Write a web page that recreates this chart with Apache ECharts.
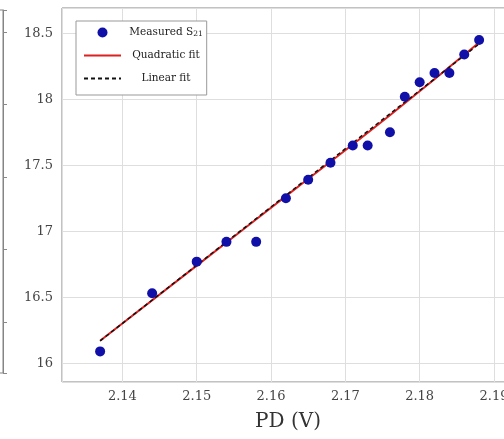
<!DOCTYPE html>
<html>
<head>
<meta charset="utf-8">
<title>S21 vs PD</title>
<script src="https://cdn.jsdelivr.net/npm/echarts@6/dist/echarts.min.js"></script>
<style>
  html, body { margin: 0; padding: 0; background: #fff; }
  #chart { width: 504px; height: 439px; }
</style>
</head>
<body>
<div id="chart"></div>
<script>
// measured points (PD in volts, S21 in dB)
var pdVolts = [2.137, 2.144, 2.150, 2.154, 2.158, 2.162, 2.165, 2.168, 2.171, 2.173, 2.176, 2.178, 2.180, 2.182, 2.184, 2.186, 2.188]
var s21 = [16.09, 16.53, 16.77, 16.92, 16.92, 17.25, 17.39, 17.52, 17.65, 17.65, 17.75, 18.02, 18.13, 18.20, 18.20, 18.34, 18.45]

// fit curves
var quadX = [2.137, 2.150, 2.163, 2.176, 2.188]
var quadY = [16.17, 16.74, 17.31, 17.88, 18.43]
var linX = [2.137, 2.188]
var linY = [16.17, 18.42]

var serif = 'DejaVu Serif'
var zip = function (xs, ys) {
  return xs.map(function (x, i) { return [x, ys[i]] })
}

var chart = echarts.init(document.getElementById('chart'), null, { renderer: 'canvas' })

chart.setOption({
  animation: false,
  backgroundColor: '#fff',
  grid: [
    // main plot, runs past the right edge of the picture
    { left: 62, top: 8, right: -20, bottom: 57, outerBoundsMode: 'none', show: true, borderColor: '#858585', borderWidth: 1, backgroundColor: 'transparent' },
    // edge of the neighbouring panel on the left
    { left: -200, width: 203, top: 10, height: 363, outerBoundsMode: 'none', show: true, borderColor: '#858585', borderWidth: 1, backgroundColor: 'transparent' }
  ],
  xAxis: [{
    gridIndex: 0,
    type: 'value',
    min: 2.13187,
    max: 2.19404,
    splitNumber: 5,
    name: 'PD (V)',
    nameLocation: 'middle',
    nameGap: 30,
    nameTextStyle: { fontFamily: serif, fontSize: 20, color: '#333', padding: [0, 10, 0, 0] },
    axisLine: { show: false },
    axisTick: { show: false },
    axisLabel: { fontFamily: serif, fontSize: 13, color: '#444', margin: 8, showMinLabel: false, showMaxLabel: false },
    splitLine: { show: true, lineStyle: { color: '#dedede', width: 1 } }
  }, {
    gridIndex: 1,
    type: 'value',
    show: false
  }],
  yAxis: [{
    gridIndex: 0,
    type: 'value',
    min: 15.858,
    max: 18.692,
    splitNumber: 5,
    axisLine: { show: false },
    axisTick: { show: false },
    axisLabel: { fontFamily: serif, fontSize: 13, color: '#444', margin: 9, showMinLabel: false, showMaxLabel: false },
    splitLine: { show: true, lineStyle: { color: '#dedede', width: 1 } }
  }, {
    gridIndex: 1,
    type: 'value',
    position: 'right',
    min: -0.7,
    max: 4.3,
    axisLine: { show: true, onZero: false, lineStyle: { color: '#858585', width: 1 } },
    axisTick: { show: true, inside: false, length: 4, lineStyle: { color: '#888', width: 1 } },
    axisLabel: { show: false },
    splitLine: { show: false }
  }],
  legend: {
    data: [
      { name: 'Measured S21' },
      { name: 'Quadratic fit', itemStyle: { opacity: 0 } },
      { name: 'Linear fit', itemStyle: { opacity: 0 } }
    ],
    orient: 'vertical',
    left: 76,
    top: 21,
    padding: [6, 4, 11, 7],
    itemWidth: 37,
    itemHeight: 10,
    itemGap: 12,
    itemTextGap: 6,
    backgroundColor: '#fff',
    borderColor: '#999',
    borderWidth: 1,
    borderRadius: 0,
    textStyle: {
      fontFamily: serif,
      fontSize: 10.5,
      color: '#222',
      width: 80,
      rich: {
        c: { align: 'center', fontFamily: serif, fontSize: 10.5, color: '#222' },
        s: { align: 'center', fontFamily: serif, fontSize: 7.5, color: '#222', verticalAlign: 'bottom' }
      }
    },
    formatter: function (name) {
      if (name === 'Measured S21') return '{c|Measured S}{s|21}'
      return '{c|' + name + '}'
    }
  },
  series: [{
    name: 'Quadratic fit',
    type: 'line',
    xAxisIndex: 0,
    yAxisIndex: 0,
    symbol: 'none',
    smooth: true,
    color: '#dd2020',
    lineStyle: { color: '#dd2020', width: 2 },
    data: zip(quadX, quadY),
    z: 2
  }, {
    name: 'Linear fit',
    type: 'line',
    xAxisIndex: 0,
    yAxisIndex: 0,
    symbol: 'none',
    color: '#111',
    lineStyle: { color: '#111', width: 1.5, type: [4, 3] },
    data: zip(linX, linY),
    z: 3
  }, {
    name: 'Measured S21',
    type: 'scatter',
    xAxisIndex: 0,
    yAxisIndex: 0,
    symbol: 'circle',
    symbolSize: 10,
    color: '#1010a8',
    itemStyle: { color: '#1010a8', opacity: 1 },
    data: zip(pdVolts, s21),
    z: 4
  }]
})
</script>
</body>
</html>
